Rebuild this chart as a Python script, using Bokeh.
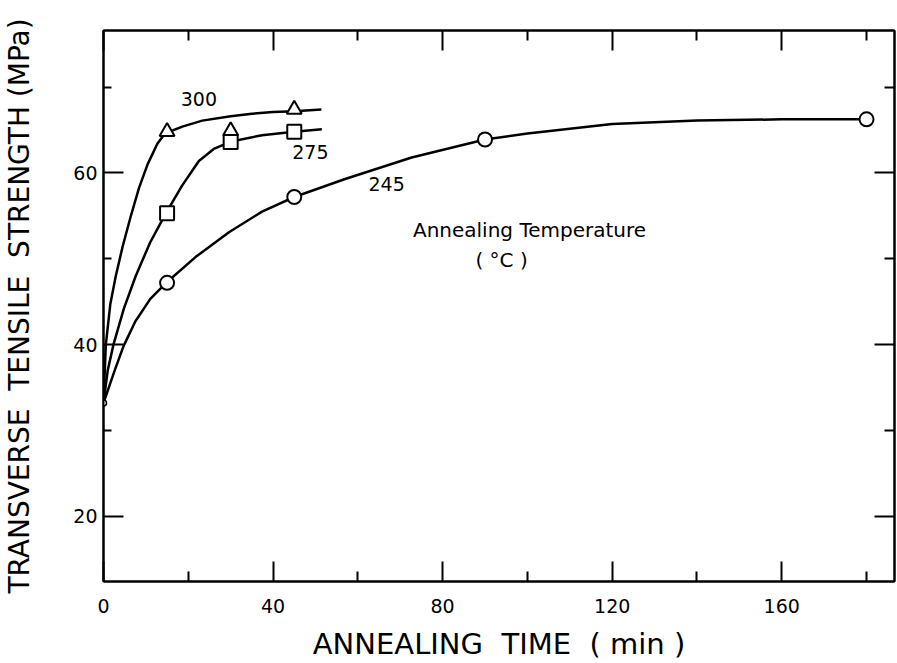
from bokeh.plotting import figure
from bokeh.models import Range1d, LinearAxis, FixedTicker
from bokeh.core.properties import value
from bokeh.embed import file_html
from bokeh.resources import INLINE

# Measured points (annealing time in min, transverse tensile strength in MPa)
start_t = [0]
start_s = [33.2]

t300 = [15, 30, 45]
s300 = [64.8, 64.9, 67.4]
t275 = [15, 30, 45]
s275 = [55.3, 63.6, 64.8]
t245 = [15, 45, 90, 180]
s245 = [47.2, 57.2, 63.9, 66.25]

# Hand-drawn smooth curves
c300_t = [0, 0.55, 1.6, 2.9, 4.5, 6.4, 8.4, 10.4, 12.7, 14.5, 18.6, 23.3, 30, 35, 40, 45, 51.4]
c300_s = [33.2, 40, 44.7, 48.0, 51.4, 54.9, 58.3, 61.0, 63.4, 64.6, 65.4, 66.1, 66.6, 66.9, 67.1, 67.2, 67.4]
c275_t = [0, 1.0, 2.35, 4.8, 7.6, 11, 14.7, 18.5, 22.5, 26, 30.4, 37.4, 45, 51.5]
c275_s = [33.2, 37.0, 40, 44.2, 48.0, 51.9, 55.3, 58.5, 61.4, 62.8, 63.7, 64.4, 64.8, 65.1]
c245_t = [0, 2.5, 4.7, 7.5, 11, 15, 21.7, 29.6, 37.4, 45, 57, 72.7, 90, 100, 120, 140, 160, 180]
c245_s = [33.2, 36.8, 39.8, 42.7, 45.3, 47.3, 50.2, 53.1, 55.5, 57.2, 59.3, 61.8, 63.9, 64.6, 65.7, 66.1, 66.25, 66.25]

x_major = [0, 40, 80, 120, 160]
x_minor = [20, 60, 100, 140, 180]
y_major = [20, 40, 60]
y_minor = [30, 50, 70]

series_labels = ["300", "275", "245"]
series_label_t = [22.5, 48.8, 66.8]
series_label_s = [68.6, 62.4, 58.7]

note_lines = ["Annealing Temperature", "( \u00b0C )"]
note_t = [100.5, 93.9]
note_s = [53.4, 49.9]

FONT = "DejaVu Sans"
NB = "\u00a0"

p = figure(width=897, height=663, output_backend="svg", toolbar_location=None,
           x_range=Range1d(0, 186.6), y_range=Range1d(12.4, 76.6),
           min_border_left=101, min_border_right=3, min_border_top=30, min_border_bottom=80,
           x_axis_location=None, y_axis_location=None)
p.grid.visible = False
p.outline_line_color = "black"
p.outline_line_width = 2
p.background_fill_color = "white"
p.border_fill_color = "white"


def style_axis(ax, ticks, minor, show_labels, major_len, minor_len):
    ax.ticker = FixedTicker(ticks=ticks, minor_ticks=minor)
    ax.axis_line_color = "black"
    ax.axis_line_width = 2
    ax.major_tick_line_width = 2
    ax.minor_tick_line_width = 2
    ax.major_tick_in = major_len
    ax.major_tick_out = 0
    ax.minor_tick_in = minor_len
    ax.minor_tick_out = 0
    ax.major_label_text_font = FONT
    if show_labels:
        ax.major_label_text_font_size = "19px"
        ax.major_label_text_color = "black"
    else:
        ax.major_label_text_font_size = "0px"
        ax.major_label_text_color = None
        ax.major_label_standoff = 0


xb = LinearAxis(axis_label=f"ANNEALING{NB}{NB}TIME{NB}{NB}({NB}min{NB})")
style_axis(xb, x_major, x_minor, True, 20, 10)
xb.major_label_standoff = 17
xb.axis_label_standoff = 11
xb.axis_label_text_font = FONT
xb.axis_label_text_font_size = "29px"
xb.axis_label_text_font_style = "normal"
xb.axis_label_text_color = "black"
p.add_layout(xb, "below")

xt = LinearAxis()
style_axis(xt, x_major, x_minor, False, 20, 10)
p.add_layout(xt, "above")

yl = LinearAxis(axis_label=f"TRANSVERSE{NB}{NB}TENSILE{NB}{NB}STRENGTH{NB}(MPa)")
style_axis(yl, y_major, y_minor, True, 20, 8)
yl.major_label_standoff = 6
yl.axis_label_standoff = 34
yl.axis_label_text_font = FONT
yl.axis_label_text_font_size = "28px"
yl.axis_label_text_font_style = "normal"
yl.axis_label_text_color = "black"
p.add_layout(yl, "left")

yr = LinearAxis()
style_axis(yr, y_major, y_minor, False, 20, 10)
p.add_layout(yr, "right")

# curves
for ct, cs in ((c300_t, c300_s), (c275_t, c275_s), (c245_t, c245_s)):
    p.line(ct, cs, line_color="black", line_width=2.5, line_join="round")

# markers
p.scatter(t300, s300, marker="triangle", size=15, fill_color="white",
          line_color="black", line_width=2)
p.scatter(t275, s275, marker="square", size=14, fill_color="white",
          line_color="black", line_width=2)
p.scatter(t245, s245, marker="circle", size=14, fill_color="white",
          line_color="black", line_width=2)
p.scatter(start_t, start_s, marker="circle", size=6, fill_color="white",
          line_color="black", line_width=1.5)

p.text(series_label_t, series_label_s, text=series_labels, text_font=value(FONT),
       text_font_size="19px", text_align="center", text_baseline="middle",
       text_color="black")
p.text(note_t, note_s, text=note_lines, text_font=value(FONT),
       text_font_size="20px", text_align="center", text_baseline="middle",
       text_color="black")

open("out.html", "w").write(file_html(p, INLINE))
